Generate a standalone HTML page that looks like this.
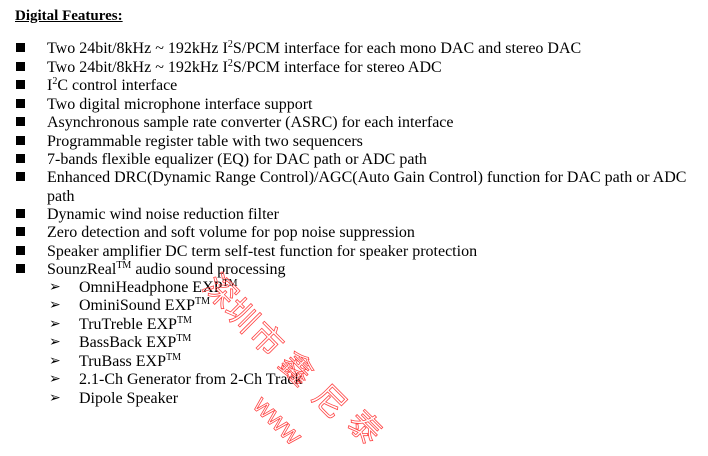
<!DOCTYPE html>
<html><head><meta charset="utf-8"><style>
body{margin:0;width:708px;height:429px;background:#fff;position:relative;overflow:hidden;font-family:"Liberation Serif","Noto Serif CJK SC",serif;color:#000}
.l{position:absolute;left:47px;font-size:16px;line-height:20px;white-space:nowrap;margin-top:2px}
.b{position:absolute;left:16px;width:9px;height:9px;background:#000;margin-top:1px}
.s{position:absolute;left:79px;font-size:16px;line-height:20px;white-space:nowrap;margin-top:2px}
.a{position:absolute;left:49px;font-size:14px;line-height:20px;margin-top:2px}
sup{font-size:10px;line-height:0;vertical-align:6px}
.w{position:absolute;width:38px;height:38px;line-height:38px;text-align:center;font-family:"Noto Sans CJK SC",sans-serif;font-size:32px;color:transparent;-webkit-text-stroke:0.8px #f44;transform:translate(-50%,-50%) rotate(45deg)}
</style></head><body>
<div style="position:absolute;left:15px;top:6px;font-size:15px;font-weight:bold;text-decoration:underline;line-height:20px">Digital Features:</div>

<div class="b" style="top:42px"></div><div class="l" style="top:37px">Two 24bit/8kHz ~ 192kHz I<sup>2</sup>S/PCM interface for each mono DAC and stereo DAC</div>
<div class="b" style="top:61px"></div><div class="l" style="top:56px">Two 24bit/8kHz ~ 192kHz I<sup>2</sup>S/PCM interface for stereo ADC</div>
<div class="b" style="top:79px"></div><div class="l" style="top:74px">I<sup>2</sup>C control interface</div>
<div class="b" style="top:98px"></div><div class="l" style="top:93px">Two digital microphone interface support</div>
<div class="b" style="top:116px"></div><div class="l" style="top:111px">Asynchronous sample rate converter (ASRC) for each interface</div>
<div class="b" style="top:135px"></div><div class="l" style="top:130px">Programmable register table with two sequencers</div>
<div class="b" style="top:153px"></div><div class="l" style="top:148px">7-bands flexible equalizer (EQ) for DAC path or ADC path</div>
<div class="b" style="top:171px"></div><div class="l" style="top:166px">Enhanced DRC(Dynamic Range Control)/AGC(Auto Gain Control) function for DAC path or ADC</div>
<div class="l" style="top:185px">path</div>
<div class="b" style="top:208px"></div><div class="l" style="top:203px">Dynamic wind noise reduction filter</div>
<div class="b" style="top:226px"></div><div class="l" style="top:221px">Zero detection and soft volume for pop noise suppression</div>
<div class="b" style="top:245px"></div><div class="l" style="top:240px">Speaker amplifier DC term self-test function for speaker protection</div>
<div class="b" style="top:263px"></div><div class="l" style="top:258px">SounzReal<sup>TM</sup> audio sound processing</div>

<div class="a" style="top:276px">➢</div><div class="s" style="top:276px">OmniHeadphone EXP<sup>TM</sup></div>
<div class="a" style="top:294px">➢</div><div class="s" style="top:294px">OminiSound EXP<sup>TM</sup></div>
<div class="a" style="top:313px">➢</div><div class="s" style="top:313px">TruTreble EXP<sup>TM</sup></div>
<div class="a" style="top:331px">➢</div><div class="s" style="top:331px">BassBack EXP<sup>TM</sup></div>
<div class="a" style="top:350px">➢</div><div class="s" style="top:350px">TruBass EXP<sup>TM</sup></div>
<div class="a" style="top:368px">➢</div><div class="s" style="top:368px">2.1-Ch Generator from 2-Ch Track</div>
<div class="a" style="top:387px">➢</div><div class="s" style="top:387px">Dipole Speaker</div>

<div class="w" style="left:222px;top:290px">深</div>
<div class="w" style="left:243px;top:314px">圳</div>
<div class="w" style="left:268px;top:338px">市</div>
<div class="w" style="left:298px;top:367px">鑫</div>
<div class="w" style="left:331px;top:400px">尼</div>
<div class="w" style="left:366px;top:426px">泰</div>
<div class="w" style="left:278px;top:420px;width:56px;font-family:'Liberation Sans',sans-serif;font-size:26px">www</div>
</body></html>
